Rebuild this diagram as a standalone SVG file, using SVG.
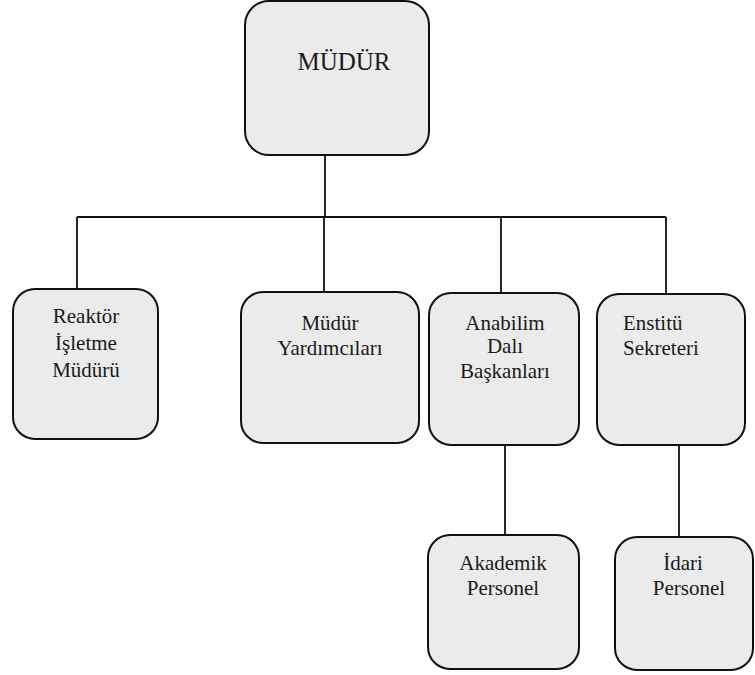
<svg xmlns="http://www.w3.org/2000/svg" width="755" height="675" viewBox="0 0 755 675">
<style>
.box{fill:#ebebeb;stroke:#111;stroke-width:2}
.t{font-family:"Liberation Serif","Times New Roman",serif;font-size:21px;fill:#1a1a1a;text-anchor:middle}
.c{fill:none;stroke:#111;stroke-width:1.8}
</style>
<rect width="755" height="675" fill="#ffffff"/>
<g id="connectors">
<path class="c" d="M325,155 V217"/>
<path class="c" d="M77,217 H666"/>
<path class="c" d="M77,217 V289"/>
<path class="c" d="M324,217 V292"/>
<path class="c" d="M501,218 V293"/>
<path class="c" d="M666,217 V294"/>
<path class="c" d="M505,445 V535"/>
<path class="c" d="M679,445 V537"/>
</g>
<g id="mudur">
<rect class="box" x="245" y="1" width="184" height="154" rx="24"/>
<text class="t" x="344" y="70" style="font-size:25px">MÜDÜR</text>
</g>
<g id="reaktor">
<rect class="box" x="13" y="289" width="145" height="150" rx="22"/>
<text class="t" x="86" y="323">Reaktör</text>
<text class="t" x="86" y="350">İşletme</text>
<text class="t" x="86" y="377">Müdürü</text>
</g>
<g id="yardimcilar">
<rect class="box" x="241" y="292" width="178" height="151" rx="22"/>
<text class="t" x="330" y="330">Müdür</text>
<text class="t" x="330" y="355">Yardımcıları</text>
</g>
<g id="anabilim">
<rect class="box" x="429" y="293" width="150" height="152" rx="22"/>
<text class="t" x="505" y="330">Anabilim</text>
<text class="t" x="505" y="353">Dalı</text>
<text class="t" x="505" y="378">Başkanları</text>
</g>
<g id="enstitu">
<rect class="box" x="597" y="294" width="148" height="151" rx="22"/>
<text class="t" x="623" y="330" style="text-anchor:start">Enstitü</text>
<text class="t" x="623" y="355" style="text-anchor:start">Sekreteri</text>
</g>
<g id="akademik">
<rect class="box" x="428" y="535" width="151" height="134" rx="22"/>
<text class="t" x="503" y="570">Akademik</text>
<text class="t" x="503" y="595">Personel</text>
</g>
<g id="idari">
<rect class="box" x="615" y="537" width="138" height="133" rx="22"/>
<text class="t" x="683" y="570">İdari</text>
<text class="t" x="689" y="595">Personel</text>
</g>
</svg>
